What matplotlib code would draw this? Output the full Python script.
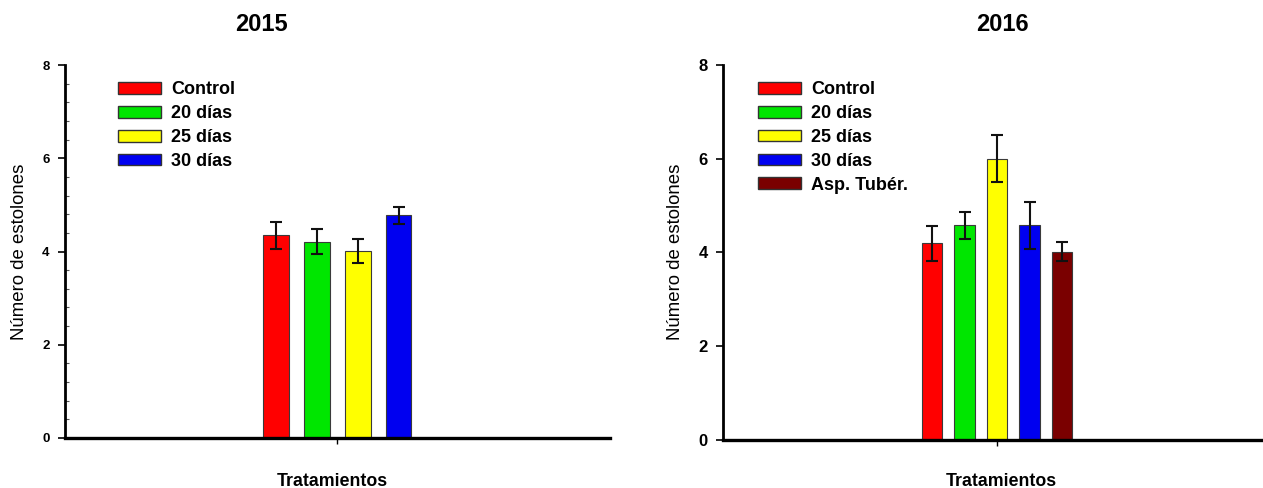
import matplotlib
matplotlib.use("Agg")
import matplotlib.pyplot as plt
import numpy as np
from matplotlib.patches import Patch
from matplotlib.ticker import MultipleLocator

plt.rcParams['font.family'] = ['Liberation Sans', 'DejaVu Sans']

# ---- data ----
labels_2015 = ["Control", "20 días", "25 días", "30 días"]
means_2015 = [4.35, 4.21, 4.01, 4.78]
errs_2015 = [0.29, 0.27, 0.25, 0.18]

labels_2016 = ["Control", "20 días", "25 días", "30 días", "Asp. Tubér."]
means_2016 = [4.19, 4.58, 6.00, 4.58, 4.01]
errs_2016 = [0.37, 0.29, 0.50, 0.50, 0.20]

colors = ["#ff0000", "#00e600", "#ffff00", "#0000f0", "#7a0000"]
title_2015 = "2015"
title_2016 = "2016"
ylabel = "Número de estolones"
xlabel = "Tratamientos"
yticks = [0, 2, 4, 6, 8]

W, H = 1263, 488
fig = plt.figure(figsize=(W / 100, H / 100), dpi=100)


def px_axes(x0, x1, ytop, ybot):
    return fig.add_axes([x0 / W, 1 - ybot / H, (x1 - x0) / W, (ybot - ytop) / H])


def draw(ax, labels, means, errs, xlim, tick_fs, minor, legend_anchor):
    n = len(means)
    pos = np.arange(n)
    ax.bar(pos, means, width=0.63, color=colors[:n], edgecolor="#3a3a3a",
           linewidth=0.8, zorder=2)
    ax.errorbar(pos, means, yerr=errs, fmt="none", ecolor="#111111",
                elinewidth=1.5, capsize=4.5, capthick=1.5, zorder=3)
    ax.set_xlim(*xlim)
    ax.set_ylim(0, 8)
    ax.set_yticks(yticks)
    ax.set_yticklabels([str(t) for t in yticks], fontsize=tick_fs,
                       fontweight="bold")
    if minor:
        ax.yaxis.set_minor_locator(MultipleLocator(0.4))
        ax.tick_params(axis="y", which="minor", direction="in", length=3,
                       width=0.8, color="#555555")
    ax.tick_params(axis="y", which="major", direction="out", length=5,
                   width=1.2, pad=6)
    ax.set_xticks([(n - 1) / 2])
    ax.set_xticklabels([""])
    ax.tick_params(axis="x", direction="out", length=4, width=1.0)
    for s in ("top", "right"):
        ax.spines[s].set_visible(False)
    ax.spines["left"].set_linewidth(2.0)
    ax.spines["bottom"].set_linewidth(2.4)
    handles = [Patch(facecolor=colors[i], edgecolor="#333333", linewidth=1.0,
                     label=labels[i]) for i in range(n)]
    ax.legend(handles=handles, loc="upper left", bbox_to_anchor=legend_anchor,
              frameon=False, prop={"weight": "bold", "size": 13},
              handlelength=2.4, handleheight=0.62, handletextpad=0.55,
              labelspacing=0.38, borderpad=0, borderaxespad=0)


ax1 = px_axes(65, 610, 65, 438)
draw(ax1, labels_2015, means_2015, errs_2015, (-5.17, 8.18), 9.5, True,
     (0.097, 0.956))

ax2 = px_axes(723, 1263, 64.7, 440)
draw(ax2, labels_2016, means_2016, errs_2016, (-6.43, 10.18), 12, False,
     (0.065, 0.956))

# titles
fig.text(261.5 / W, 1 - 24.5 / H, title_2015, ha="center", va="center",
         fontsize=17, fontweight="bold")
fig.text(1002 / W, 1 - 24.5 / H, title_2016, ha="center", va="center",
         fontsize=17, fontweight="bold")

# x labels
fig.text(332 / W, 1 - 486 / H, xlabel, ha="center", va="baseline",
         fontsize=12.8, fontweight="bold")
fig.text(1001 / W, 1 - 486 / H, xlabel, ha="center", va="baseline",
         fontsize=12.8, fontweight="bold")

# y labels
fig.text(20 / W, 1 - 252 / H, ylabel, ha="center", va="center",
         rotation=90, fontsize=13.4)
fig.text(676 / W, 1 - 252 / H, ylabel, ha="center", va="center",
         rotation=90, fontsize=13.4)

fig.savefig("out.png", dpi=100)
